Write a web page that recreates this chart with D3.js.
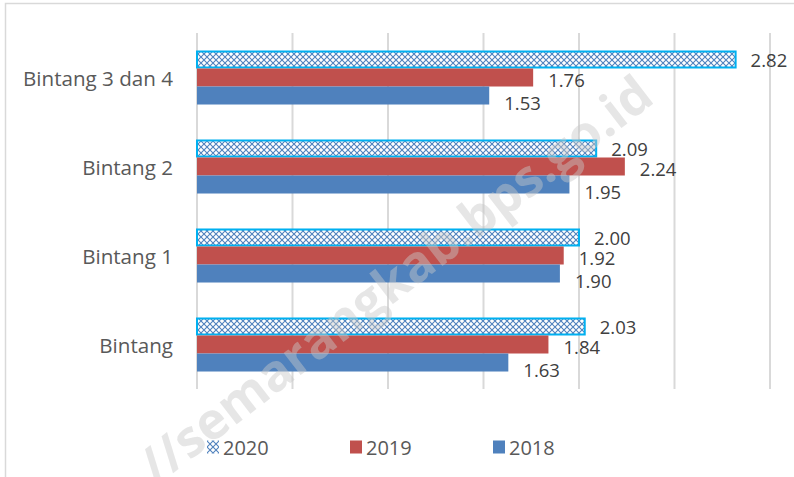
<!DOCTYPE html>
<html><head><meta charset="utf-8">
<script src="https://cdn.jsdelivr.net/npm/d3@7"></script>
<style>html,body{margin:0;padding:0;background:#fff;}svg{display:block;font-family:"Open Sans",sans-serif;}</style>
</head><body>
<svg id="c" width="794" height="477"></svg>
<script>
const categories = ["Bintang 3 dan 4", "Bintang 2", "Bintang 1", "Bintang"];
const seriesNames = ["2020", "2019", "2018"];
const values2020 = [2.82, 2.09, 2.00, 2.03];
const values2019 = [1.76, 2.24, 1.92, 1.84];
const values2018 = [1.53, 1.95, 1.90, 1.63];
const xTicks = [0, 0.5, 1, 1.5, 2, 2.5, 3];
const watermark = "//semarangkab.bps.go.id";

const seriesValues = {"2020": values2020, "2019": values2019, "2018": values2018};
const colors = {"2020": "url(#hatch)", "2019": "#c0504d", "2018": "#4f81bd"};
const labelDy = {"2020": 0, "2019": 2, "2018": 7};

const svg = d3.select("#c");
const defs = svg.append("defs");
const pat = defs.append("pattern").attr("id", "hatch").attr("patternUnits", "userSpaceOnUse")
  .attr("width", 6).attr("height", 6);
pat.append("rect").attr("width", 6).attr("height", 6).attr("fill", "#fff");
pat.append("path").attr("d", "M0,0L6,6M6,0L0,6").attr("stroke", "#4f81bd").attr("stroke-width", 1.1);

// outer border
svg.append("rect").attr("x", 5.5).attr("y", 3.5).attr("width", 820).attr("height", 500)
  .attr("fill", "none").attr("stroke", "#d9d9d9").attr("stroke-width", 1.5);

const x = d3.scaleLinear().domain([0, 3]).range([197, 770]);
const y = d3.scaleBand().domain(categories).range([33, 389]).paddingInner(0.393).paddingOuter(0.1965);
const y1 = d3.scaleBand().domain(seriesNames).range([0, y.bandwidth()]);

// gridlines
svg.append("g").selectAll("line").data(xTicks).join("line")
  .attr("x1", d => x(d)).attr("x2", d => x(d)).attr("y1", 33).attr("y2", 389)
  .attr("stroke", "#d9d9d9").attr("stroke-width", 2);

// category labels
svg.append("g").selectAll("text").data(categories).join("text")
  .attr("x", 173).attr("y", d => y(d) + y.bandwidth() / 2)
  .attr("text-anchor", "end").attr("dominant-baseline", "central")
  .attr("font-size", 20.6).attr("fill", "#595959").text(d => d);

// bars
const rows = [];
seriesNames.forEach(s => categories.forEach((c, i) => rows.push({s, c, v: seriesValues[s][i]})));
svg.append("g").selectAll("rect").data(rows).join("rect")
  .attr("x", x(0)).attr("y", d => y(d.c) + y1(d.s) + (d.s === "2020" ? 1 : 0))
  .attr("width", d => x(d.v) - x(0)).attr("height", d => y1.bandwidth() - (d.s === "2020" ? 2 : 0))
  .attr("fill", d => colors[d.s])
  .attr("stroke", d => d.s === "2020" ? "#00b0f0" : "none").attr("stroke-width", 2);

// watermark
svg.append("text").attr("transform", "translate(394,278) rotate(-37.6)")
  .attr("text-anchor", "middle").attr("dominant-baseline", "central")
  .attr("font-size", 51).attr("font-weight", "bold")
  .attr("fill", "#c8c8c8").attr("fill-opacity", 0.45).text(watermark);

// data labels
svg.append("g").selectAll("text").data(rows).join("text")
  .attr("x", d => x(d.v) + 15).attr("y", d => y(d.c) + y1(d.s) + y1.bandwidth() / 2 + labelDy[d.s])
  .attr("dominant-baseline", "central").attr("font-size", 18.5).attr("fill", "#404040")
  .text(d => d3.format(".2f")(d.v));

// legend
const lg = svg.append("g").selectAll("g").data(seriesNames).join("g")
  .attr("transform", (d, i) => `translate(${207 + i * 143},447)`);
lg.append("rect").attr("x", 0).attr("y", -6.5).attr("width", 12).attr("height", 13)
  .attr("fill", d => colors[d]);
lg.append("text").attr("x", 16).attr("y", 0).attr("dominant-baseline", "central")
  .attr("font-size", 20).attr("fill", "#595959").text(d => d);
</script>
</body></html>
